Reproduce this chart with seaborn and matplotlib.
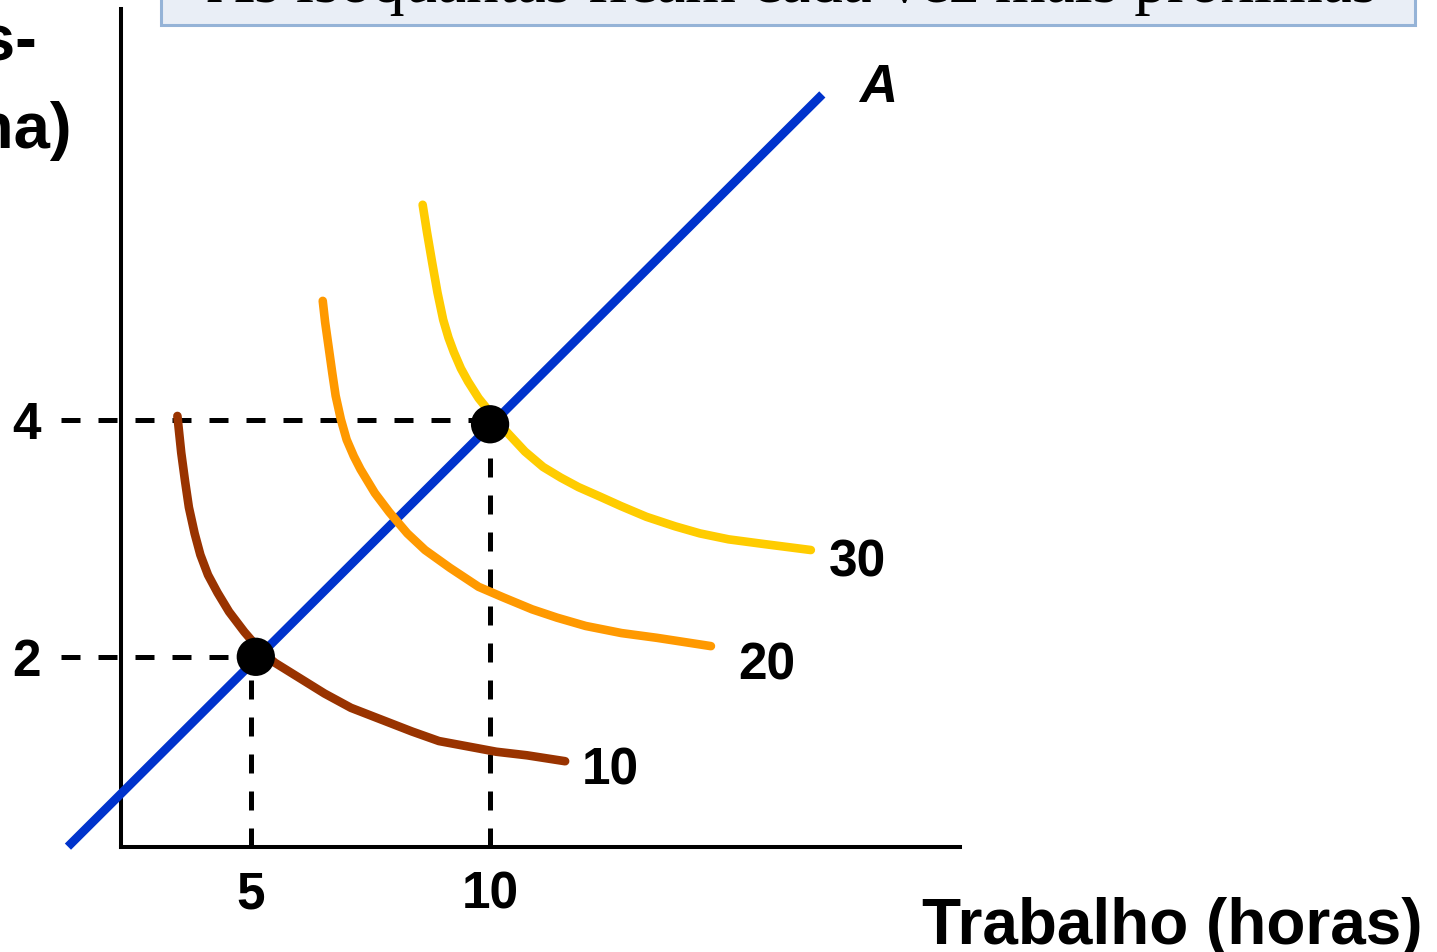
import matplotlib
matplotlib.use("Agg")
import matplotlib.pyplot as plt
import seaborn as sns
import pandas as pd
from matplotlib.patches import Rectangle

# ---------------- data ----------------
q10_x = [3.46, 3.54, 3.62, 3.70, 3.82, 3.94, 4.10, 4.30, 4.54, 4.86, 5.18, 5.50,
         5.82, 6.54, 7.09, 7.73, 8.37, 8.93, 9.73, 10.13, 10.77, 11.57]
q10_y = [4.03, 3.72, 3.48, 3.26, 3.04, 2.86, 2.69, 2.54, 2.38, 2.21, 2.06, 1.95,
         1.87, 1.69, 1.57, 1.47, 1.37, 1.29, 1.23, 1.20, 1.17, 1.12]
q20_x = [6.50, 6.55, 6.62, 6.70, 6.77, 6.88, 7.00, 7.15, 7.29, 7.59, 7.89, 8.27,
         8.64, 9.16, 9.76, 10.28, 10.88, 11.40, 12.00, 12.75, 13.49, 14.62]
q20_y = [5.00, 4.82, 4.62, 4.39, 4.20, 4.00, 3.83, 3.69, 3.58, 3.38, 3.22, 3.04,
         2.90, 2.75, 2.59, 2.50, 2.40, 2.33, 2.26, 2.20, 2.16, 2.09]
q30_x = [8.59, 8.68, 8.79, 8.90, 9.02, 9.13, 9.24, 9.39, 9.54, 9.76, 9.98, 10.17,
         10.36, 10.73, 11.11, 11.48, 11.85, 12.30, 12.74, 13.27, 13.87, 14.39,
         14.99, 15.74, 16.71]
q30_y = [5.81, 5.58, 5.32, 5.07, 4.84, 4.69, 4.57, 4.43, 4.32, 4.18, 4.07, 3.98,
         3.89, 3.73, 3.60, 3.51, 3.43, 3.35, 3.27, 3.18, 3.10, 3.04,
         2.99, 2.95, 2.90]
iso_levels = ["10", "20", "30"]
ray_x = [1.17, 16.95]
ray_y = [0.40, 6.74]
ray_label = "A"
pts_x = [5.1, 10.0]
pts_y = [2.0, 3.96]
labor_ticks = [5, 10]
capital_ticks = [2, 4]
x_label = "Trabalho (horas)"
y_label_lines = ["Capital", "(horas-", "máquina)"]
title_text = "As isoquantas ficam cada vez mais próximas"

# ---------------- styling ----------------
sns.set_theme(style="white")
plt.rcParams["font.family"] = ["Liberation Sans", "DejaVu Sans"]

W, H = 1437, 952
fig = plt.figure(figsize=(W / 100, H / 100), dpi=100)
fig.patch.set_facecolor("white")

ax_left, ax_right, ax_top, ax_bottom = 121, 960, 9, 847
ax = fig.add_axes([ax_left / W, (H - ax_bottom) / H,
                   (ax_right - ax_left) / W, (ax_bottom - ax_top) / H])
ax.set_facecolor("white")

x_lo, x_hi = 2.28, 19.83
y_lo, y_hi = 0.397, 7.46
ax.set_xlim(x_lo, x_hi)
ax.set_ylim(y_lo, y_hi)

for s in ["top", "right"]:
    ax.spines[s].set_visible(False)
for s in ["left", "bottom"]:
    ax.spines[s].set_color("black")
    ax.spines[s].set_linewidth(2.9)

# dashed guide lines
dash = (0, (3.8, 3.6))
guide_x0 = 1.03
for xv, yv in zip(pts_x, capital_ticks):
    ax.plot([guide_x0, xv], [yv, yv], color="black", lw=3.6, ls=dash,
            clip_on=False, zorder=2, dash_capstyle="butt")
for xt, yv in zip(labor_ticks, pts_y):
    ax.plot([xt, xt], [y_lo, yv], color="black", lw=3.6, ls=dash,
            clip_on=False, zorder=2, dash_capstyle="butt")

# ray A
ray_df = pd.DataFrame({"x": ray_x, "y": ray_y})
sns.lineplot(data=ray_df, x="x", y="y", ax=ax, color="#0033CC", lw=6.3,
             sort=False, estimator=None, solid_capstyle="butt", zorder=3)
ax.lines[-1].set_clip_on(False)

# isoquants
curves = [(q10_x, q10_y, "#993300"), (q20_x, q20_y, "#FF9900"), (q30_x, q30_y, "#FFCC00")]
for cx, cy, col in curves:
    df = pd.DataFrame({"x": cx, "y": cy})
    sns.lineplot(data=df, x="x", y="y", ax=ax, color=col, lw=6.2, sort=False,
                 estimator=None, solid_capstyle="round", solid_joinstyle="round",
                 zorder=4)

# points
sns.scatterplot(x=pts_x, y=pts_y, ax=ax, s=760, color="black",
                edgecolor="none", zorder=6)

# isoquant labels
label_offsets = [(12, -7), (20, -14), (13, -9)]
for (cx, cy, col), lab, off in zip(curves, iso_levels, label_offsets):
    ax.annotate(lab, xy=(cx[-1], cy[-1]), xytext=off, textcoords="offset points",
                ha="left", va="center", fontsize=37, fontweight="bold",
                color="black", annotation_clip=False)

ax.annotate(ray_label, xy=(ray_x[-1], ray_y[-1]), xytext=(40, 4.5),
            textcoords="offset points", ha="center", va="center",
            fontsize=38, fontweight="bold", fontstyle="italic", color="black",
            annotation_clip=False)

# ticks
ax.set_xticks(labor_ticks)
ax.set_xticklabels([str(v) for v in labor_ticks], fontsize=37, fontweight="bold")
ax.set_yticks(capital_ticks)
ax.set_yticklabels([str(v) for v in capital_ticks], fontsize=37, fontweight="bold")
ax.tick_params(axis="x", length=0, pad=17, colors="black")
ax.tick_params(axis="y", length=0, pad=58, colors="black")
ax.grid(False)
ax.set_xlabel("")
ax.set_ylabel("")

# axis titles
fig.text(1423 / W, 1 - 944 / H, x_label, ha="right", va="baseline",
         fontsize=46, fontweight="bold", color="black")
y_center_px = -73
y_baselines = [-28, 60, 148]
for line, b in zip(y_label_lines, y_baselines):
    fig.text(y_center_px / W, 1 - b / H, line, ha="center", va="baseline",
             fontsize=47, fontweight="bold", color="black")

# title box (cut off at the top of the frame)
box = Rectangle((161 / W, 1 - 25 / H), (1415 - 161) / W, 120 / H,
                transform=fig.transFigure, facecolor="#E9EEF6",
                edgecolor="#95B3D7", linewidth=2.2, zorder=0)
fig.patches.append(box)
fig.text(792 / W, 1 - 1.8 / H, title_text, ha="center", va="baseline",
         fontsize=47, family=["Liberation Serif", "DejaVu Serif"], color="black")

fig.savefig("out.png", dpi=100, facecolor="white")
